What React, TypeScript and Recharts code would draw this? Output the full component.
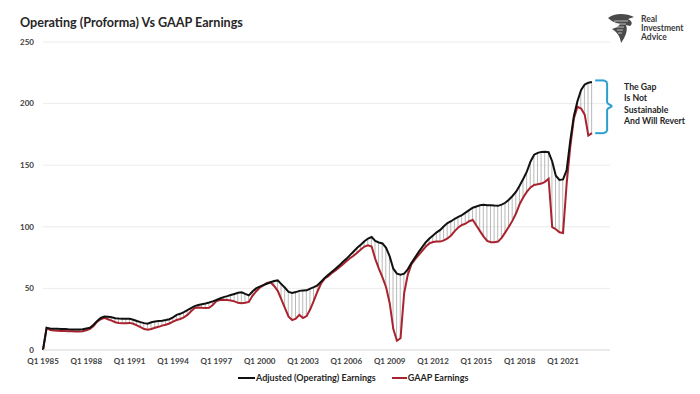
import React from 'react';
import { ComposedChart, Line, Bar, XAxis, YAxis, CartesianGrid, ReferenceLine } from 'recharts';

// quarterly, Q1 1985 .. Q1 2023 (first row is the blank/zero start)
const operating = [
  0, 18, 17.5, 17.3, 17.2, 17.0, 17.0, 16.8, 16.7, 16.6,
  16.6, 16.8, 17.5, 18.0, 20.5, 23.5, 26.0, 27.2, 27.0, 26.5,
  25.8, 25.5, 25.3, 25.3, 25.3, 24.5, 23.5, 22.6, 21.8, 21.3,
  22.5, 23.2, 23.5, 23.8, 24.3, 25.0, 26.5, 28.5, 29.4, 30.8,
  32.3, 34.0, 35.6, 36.5, 37.2, 37.8, 38.6, 39.5, 40.6, 41.8,
  42.9, 43.7, 44.6, 45.5, 46.4, 46.8, 45.5, 44.3, 47.5, 50.0,
  51.4, 52.6, 53.8, 55.0, 56.0, 56.5, 53.5, 50.5, 47.2, 46.3,
  47.0, 48.0, 48.2, 48.4, 49.8, 51.0, 52.5, 55.5, 58.5, 61.0,
  63.5, 66.0, 68.5, 71.5, 74.0, 77.0, 80.0, 83.0, 85.5, 88.3,
  90.5, 91.7, 88.5, 87.3, 86.5, 83.0, 76.0, 66.0, 62.0, 61.2,
  62.0, 65.5, 70.5, 75.0, 79.5, 83.5, 87.5, 90.5, 93.0, 95.5,
  97.5, 100.5, 103.0, 104.5, 106.5, 108.0, 109.5, 111.5, 113.5, 115.5,
  116.5, 117.5, 117.8, 117.5, 117.5, 117.2, 117.0, 118.0, 119.5, 122.0,
  125.0, 128.5, 133.5, 139.0, 145.0, 153.0, 158.5, 160.0, 160.8, 161.0,
  160.5, 153.0, 141.5, 138.0, 138.5, 146.0, 170.0, 190.0, 202.0, 211.0,
  215.5, 217.0, 217.5,
];

const gaap = [
  0, 18, 16.2, 15.8, 15.6, 15.5, 15.4, 15.3, 15.2, 15.0,
  15.0, 15.2, 16.0, 17.2, 19.5, 23.0, 25.0, 26.2, 25.0, 23.8,
  22.5, 22.0, 21.8, 21.8, 22.0, 21.3, 20.0, 18.5, 17.0, 16.4,
  17.0, 18.0, 18.8, 19.8, 20.5, 21.5, 23.0, 24.3, 25.2, 26.5,
  28.5, 31.5, 34.0, 34.5, 34.2, 34.0, 34.3, 36.5, 39.8, 40.5,
  40.8, 40.5, 40.2, 39.5, 38.3, 38.0, 38.3, 39.0, 44.0, 47.5,
  50.5, 52.5, 54.5, 55.0, 52.0, 48.0, 41.0, 34.0, 27.0, 24.3,
  25.5, 28.5, 26.0, 27.5, 33.0, 40.0, 47.5, 54.0, 58.0, 60.0,
  62.5, 64.5, 67.0, 69.5, 72.0, 74.5, 76.5, 79.0, 81.5, 84.0,
  85.0, 84.0, 74.0, 66.0, 59.0, 51.0, 38.0, 17.0, 7.5, 9.5,
  46.0, 61.0, 69.5, 73.5, 77.0, 80.5, 84.0, 86.5, 87.6, 88.0,
  88.0, 89.0, 90.5, 93.0, 96.5, 99.5, 101.5, 102.5, 104.5, 105.5,
  101.0, 96.5, 92.0, 88.5, 87.5, 87.5, 88.0, 91.0, 95.5, 100.0,
  105.0, 111.0, 118.5, 124.0, 128.5, 132.0, 134.0, 134.5, 135.1, 136.5,
  139.0, 99.8, 98.0, 95.5, 95.0, 135.0, 165.0, 188.0, 197.5, 196.0,
  191.0, 174.0, 176.0,
];

const tickLabels = [
  'Q1 1985', 'Q1 1988', 'Q1 1991', 'Q1 1994', 'Q1 1997', 'Q1 2000', 'Q1 2003',
  'Q1 2006', 'Q1 2009', 'Q1 2012', 'Q1 2015', 'Q1 2018', 'Q1 2021',
];
const yTicks = [0, 50, 100, 150, 200, 250];

// curly bracket around the last gap, in chart units (quarter index, earnings)
const bracket = [
  { x: 152.9, y: 218.8 }, { x: 155.4, y: 218.8 }, { x: 156.2, y: 217.2 },
  { x: 156.2, y: 200.4 }, { x: 157.6, y: 198.0 }, { x: 156.2, y: 195.6 },
  { x: 156.2, y: 177.6 }, { x: 155.4, y: 176.0 }, { x: 152.9, y: 176.0 },
];

const data = operating.map((op, i) => ({
  q: i,
  op,
  gaap: gaap[i],
  gap: [Math.min(op, gaap[i]), Math.max(op, gaap[i])],
}));

const xTicks = tickLabels.map((_, i) => i * 12);
const font = 'Lato, "Open Sans", sans-serif';

const Logo = () => (
  <div style={{ position: 'absolute', left: 606, top: 12, display: 'flex', alignItems: 'center' }}>
    <svg width={30} height={32} viewBox="0 0 30 32">
      <path d="M2 6 C8 1 20 1 28 5 L22 7 C26 9 27 12 24 14 L20 13 C22 18 20 24 15 31 C14 24 11 20 6 17 C10 16 13 14 14 12 C9 11 5 9 2 6 Z" fill="#4a4a4a" />
      <path d="M8 9 L22 9 M9 12 L20 12 M10 15 L18 15 M11 18 L17 18 M12 21 L16 21" stroke="#d9d9d9" strokeWidth={0.8} />
    </svg>
    <div style={{ marginLeft: 5, fontFamily: font, fontWeight: 700, fontSize: 8.5, lineHeight: '9px', color: '#3a3a3a' }}>
      <div>Real</div>
      <div>Investment</div>
      <div>Advice</div>
    </div>
  </div>
);

export default function App() {
  return (
    <div style={{ position: 'relative', width: 700, height: 394, margin: -8, background: '#fff', overflow: 'hidden' }}>
      <div style={{ position: 'absolute', left: 4, top: 3, width: 688, height: 386, border: '1px solid #ececec' }} />
      <div style={{ position: 'absolute', left: 20, top: 15, fontFamily: font, fontWeight: 700, fontSize: 12.6, color: '#262626' }}>
        Operating (Proforma) Vs GAAP Earnings
      </div>
      <Logo />
      <ComposedChart
        width={700}
        height={394}
        data={data}
        margin={{ top: 42, right: 90, bottom: 24, left: 13 }}
        style={{ position: 'absolute', left: 0, top: 0 }}
      >
        <CartesianGrid vertical={false} stroke="#ececec" />
        <XAxis
          dataKey="q"
          type="number"
          domain={[0, 157]}
          ticks={xTicks}
          tickFormatter={(v: number) => tickLabels[v / 12]}
          interval={0}
          height={20}
          stroke="#e0e0e0"
          tickLine={false}
          tick={{ fontSize: 8, fontWeight: 700, fill: '#404040', fontFamily: font }}
        />
        <YAxis
          type="number"
          domain={[0, 250]}
          ticks={yTicks}
          width={30}
          axisLine={false}
          tickLine={false}
          tickMargin={3}
          tick={{ fontSize: 8, fontWeight: 700, fill: '#404040', fontFamily: font }}
        />
        <Bar dataKey="gap" barSize={1} fill="#b8b8b8" isAnimationActive={false} />
        <Line type="linear" dataKey="gaap" stroke="#a8232d" strokeWidth={2} dot={false} isAnimationActive={false} />
        <Line type="linear" dataKey="op" stroke="#111" strokeWidth={2} dot={false} isAnimationActive={false} />
        {bracket.slice(1).map((p, i) => (
          <ReferenceLine
            key={i}
            segment={[bracket[i], p]}
            stroke="#2a9fd0"
            strokeWidth={2}
            ifOverflow="visible"
          />
        ))}
      </ComposedChart>
      <div style={{ position: 'absolute', left: 624, top: 81, fontFamily: font, fontWeight: 700, fontSize: 8.7, lineHeight: '11.3px', color: '#262626' }}>
        <div>The Gap</div>
        <div>Is Not</div>
        <div>Sustainable</div>
        <div>And Will Revert</div>
      </div>
      <div style={{ position: 'absolute', left: 238, top: 372, display: 'flex', alignItems: 'center', fontFamily: font, fontWeight: 700, fontSize: 9, color: '#262626' }}>
        <span style={{ display: 'inline-block', width: 17, height: 2, background: '#111', marginRight: 1 }} />
        <span>Adjusted (Operating) Earnings</span>
        <span style={{ display: 'inline-block', width: 15, height: 2, background: '#a8232d', marginLeft: 16, marginRight: 1 }} />
        <span>GAAP Earnings</span>
      </div>
    </div>
  );
}
